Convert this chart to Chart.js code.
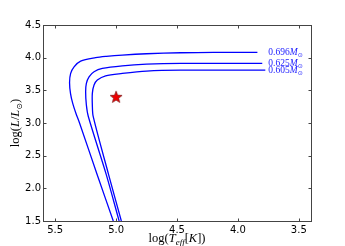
<!DOCTYPE html>
<html>
<head>
<meta charset="utf-8">
<script src="https://cdn.jsdelivr.net/npm/chart.js@4.4.1/dist/chart.umd.min.js"></script>
<style>
  html, body { margin: 0; padding: 0; background: #fff; }
  canvas { display: block; }
</style>
</head>
<body>
<canvas id="hrd" width="345" height="246"></canvas>
<script>
// tick values
var X_TICKS = [5.5, 5.0, 4.5, 4.0, 3.5];
var Y_TICKS = [1.5, 2.0, 2.5, 3.0, 3.5, 4.0, 4.5];

// post-AGB tracks, log Teff / log L
var MASSES = ['0.696', '0.625', '0.605'];
var TEFF_696 = [3.84, 4.20, 4.47, 4.75, 4.949, 5.08, 5.168, 5.291, 5.345, 5.373, 5.382, 5.374, 5.356, 5.330, 5.300, 5.155, 5.023];
var LUM_696  = [4.08, 4.08, 4.075, 4.06, 4.04, 4.02, 4.00, 3.947, 3.86, 3.759, 3.62, 3.45, 3.30, 3.15, 3.00, 2.207, 1.50];
var TEFF_625 = [3.80, 4.47, 4.75, 4.949, 5.113, 5.181, 5.222, 5.244, 5.25, 5.244, 5.228, 5.08, 4.975];
var LUM_625  = [3.912, 3.912, 3.90, 3.875, 3.835, 3.784, 3.707, 3.607, 3.479, 3.276, 3.10, 2.207, 1.50];
var TEFF_605 = [3.775, 4.47, 4.75, 4.949, 5.086, 5.154, 5.181, 5.195, 5.195, 5.188, 5.061, 4.957];
var LUM_605  = [3.809, 3.809, 3.795, 3.759, 3.723, 3.657, 3.581, 3.454, 3.276, 3.10, 2.207, 1.50];

// the observed star
var STAR_TEFF = [5.0];
var STAR_LUM = [3.4];

// x position of the mass labels
var LABEL_TEFF = 3.75;

var TRACKS = [
    { teff: TEFF_696, lum: LUM_696 },
    { teff: TEFF_625, lum: LUM_625 },
    { teff: TEFF_605, lum: LUM_605 }
];

var SERIF = '"Liberation Serif", "Times New Roman", serif';
var SANS = '"DejaVu Sans", sans-serif';

function pts(xs, ys) {
    return xs.map(function (x, i) { return { x: x, y: ys[i] }; });
}

function makeStar(size) {
    var c = document.createElement('canvas');
    c.width = size; c.height = size;
    var g = c.getContext('2d');
    var cx = size / 2, cy = size / 2 + 0.5, ro = size / 2 - 0.7, ri = ro * 0.42;
    g.beginPath();
    for (var k = 0; k < 10; k++) {
        var r = k % 2 ? ri : ro;
        var a = -Math.PI / 2 + k * Math.PI / 5;
        g.lineTo(cx + r * Math.cos(a), cy + r * Math.sin(a));
    }
    g.closePath();
    g.fillStyle = '#ee0000';
    g.fill();
    g.strokeStyle = '#660000';
    g.lineWidth = 0.6;
    g.stroke();
    return c;
}

// draws a sequence of text pieces with different fonts, centred on x
function drawRuns(ctx, runs, x, y) {
    var w = 0;
    runs.forEach(function (r) { ctx.font = r.font; r.w = ctx.measureText(r.t).width; w += r.w; });
    var cx = x - w / 2;
    runs.forEach(function (r) {
        ctx.font = r.font;
        ctx.fillText(r.t, cx, y + (r.dy || 0));
        cx += r.w;
    });
}

var framePlugin = {
    id: 'frame',
    afterDraw: function (chart) {
        var ctx = chart.ctx, a = chart.chartArea;
        var sx = chart.scales.x, sy = chart.scales.y;
        var L = Math.round(a.left) + 0.5, R = Math.round(a.right) + 0.5;
        var T = Math.round(a.top) + 0.5, B = Math.round(a.bottom) + 0.5;
        ctx.save();
        ctx.strokeStyle = '#444';
        ctx.lineWidth = 1;
        ctx.strokeRect(L, T, R - L, B - T);
        ctx.beginPath();
        var tl = 3;
        X_TICKS.forEach(function (v) {
            var px = Math.round(sx.getPixelForValue(v)) + 0.5;
            ctx.moveTo(px, B); ctx.lineTo(px, B - tl);
            ctx.moveTo(px, T); ctx.lineTo(px, T + tl);
        });
        Y_TICKS.forEach(function (v) {
            var py = Math.round(sy.getPixelForValue(v)) + 0.5;
            ctx.moveTo(L, py); ctx.lineTo(L + tl, py);
            ctx.moveTo(R, py); ctx.lineTo(R - tl, py);
        });
        ctx.stroke();

        // axis titles
        ctx.fillStyle = '#000';
        ctx.textBaseline = 'alphabetic';
        ctx.textAlign = 'left';
        var fs = 12.5;
        var up = fs + 'px ' + SERIF, it = 'italic ' + fs + 'px ' + SERIF;
        var sub = 'italic 9px ' + SERIF;
        drawRuns(ctx, [
            { t: 'log(', font: up }, { t: 'T', font: it },
            { t: 'eff', font: sub, dy: 3 }, { t: '[', font: up },
            { t: 'K', font: it }, { t: '])', font: up }
        ], (a.left + a.right) / 2, 242);

        ctx.translate(19, (a.top + a.bottom) / 2);
        ctx.rotate(-Math.PI / 2);
        drawRuns(ctx, [
            { t: 'log(', font: up }, { t: 'L', font: it }, { t: '/', font: up },
            { t: 'L', font: it }, { t: '⊙', font: '8px ' + SANS, dy: 3 },
            { t: ')', font: up }
        ], 0, 0);
        ctx.restore();
    },
    afterDatasetsDraw: function (chart) {
        var ctx = chart.ctx;
        var sx = chart.scales.x, sy = chart.scales.y;
        ctx.save();
        ctx.fillStyle = '#2222ff';
        ctx.textBaseline = 'middle';
        ctx.textAlign = 'left';
        TRACKS.forEach(function (tr, i) {
            var px = sx.getPixelForValue(LABEL_TEFF);
            var py = sy.getPixelForValue(tr.lum[0]);
            ctx.font = '9.5px ' + SERIF;
            ctx.fillText(MASSES[i], px, py);
            px += ctx.measureText(MASSES[i]).width;
            ctx.font = 'italic 9.5px ' + SERIF;
            ctx.fillText('M', px, py);
            px += ctx.measureText('M').width;
            ctx.font = '6px ' + SANS;
            ctx.fillText('⊙', px, py + 3);
        });
        ctx.restore();
    }
};

var datasets = [{
    data: pts(STAR_TEFF, STAR_LUM),
    pointStyle: makeStar(14),
    pointRadius: 7,
    showLine: false
}];
TRACKS.forEach(function (tr) {
    datasets.push({
        data: pts(tr.teff, tr.lum),
        showLine: true,
        borderColor: '#0000ff',
        borderWidth: 1.3,
        pointRadius: 0,
        tension: 0.3,
        fill: false
    });
});

var tickFont = { family: SANS, size: 10 };

new Chart(document.getElementById('hrd'), {
    type: 'scatter',
    data: { datasets: datasets },
    plugins: [framePlugin],
    options: {
        responsive: false,
        animation: false,
        devicePixelRatio: 1,
        layout: { padding: { left: 0, right: 34, top: 25, bottom: 0 } },
        plugins: { legend: { display: false }, tooltip: { enabled: false } },
        scales: {
            x: {
                type: 'linear',
                reverse: true,
                min: 3.4,
                max: 5.6,
                grid: { display: false, drawTicks: false },
                border: { display: false },
                afterBuildTicks: function (s) { s.ticks = X_TICKS.map(function (v) { return { value: v }; }); },
                afterFit: function (s) { s.height = 25; },
                ticks: {
                    font: tickFont, color: '#000', padding: 3, maxRotation: 0,
                    callback: function (v) { return Number(v).toFixed(1); }
                }
            },
            y: {
                type: 'linear',
                min: 1.5,
                max: 4.5,
                grid: { display: false, drawTicks: false },
                border: { display: false },
                afterBuildTicks: function (s) { s.ticks = Y_TICKS.map(function (v) { return { value: v }; }); },
                afterFit: function (s) { s.width = 43; },
                ticks: {
                    font: tickFont, color: '#000', padding: 2,
                    callback: function (v) { return Number(v).toFixed(1); }
                }
            }
        }
    }
});
</script>
</body>
</html>
